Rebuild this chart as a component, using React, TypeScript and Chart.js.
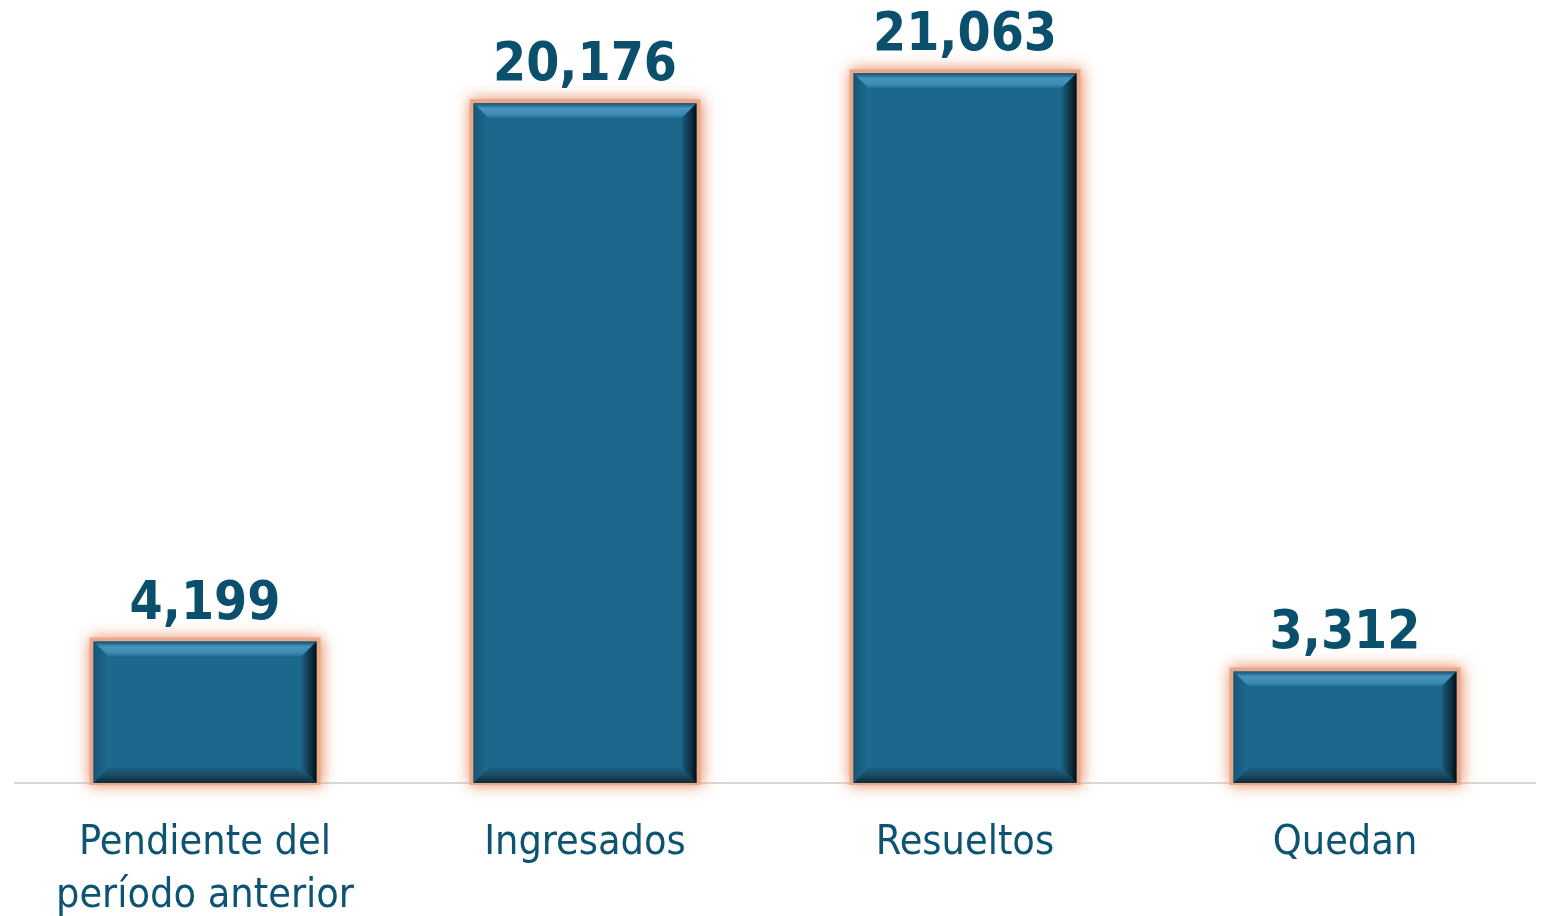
import React, { useEffect, useRef } from "react";
import { Chart, registerables } from "chart.js";

Chart.register(...registerables);

const categories: (string | string[])[] = [
  ["Pendiente del", "período anterior"],
  "Ingresados",
  "Resueltos",
  "Quedan",
];
const values: number[] = [4199, 20176, 21063, 3312];

const BAR_COLOR = "#1c688c";
const LABEL_COLOR = "#0a4f6b";
const TICK_COLOR = "#0d5472";

const barStylePlugin = {
  id: "barStyle",
  beforeDatasetsDraw(chart: any) {
    const ctx = chart.ctx;
    const meta = chart.getDatasetMeta(0);
    meta.data.forEach((bar: any) => {
      const { x, y, base, width } = bar.getProps(["x", "y", "base", "width"], true);
      const l = x - width / 2;
      ctx.save();
      ctx.shadowColor = "rgba(230,130,85,0.95)";
      ctx.shadowBlur = 14;
      ctx.shadowOffsetX = 1;
      ctx.fillStyle = "#eba888";
      ctx.fillRect(l - 4, y - 4, width + 8, base - y + 6);
      ctx.restore();
    });
  },
  afterDatasetsDraw(chart: any) {
    const ctx = chart.ctx;
    const meta = chart.getDatasetMeta(0);
    const b = 15;
    meta.data.forEach((bar: any, i: number) => {
      const { x, y, base, width } = bar.getProps(["x", "y", "base", "width"], true);
      const l = x - width / 2;
      const r = x + width / 2;
      ctx.save();
      // top bevel
      let g = ctx.createLinearGradient(0, y, 0, y + b);
      g.addColorStop(0, "#15506e");
      g.addColorStop(0.35, "#4595bf");
      g.addColorStop(0.75, "#3d8ab3");
      g.addColorStop(1, "#246f94");
      ctx.fillStyle = g;
      ctx.beginPath();
      ctx.moveTo(l, y);
      ctx.lineTo(r, y);
      ctx.lineTo(r - b, y + b);
      ctx.lineTo(l + b, y + b);
      ctx.closePath();
      ctx.fill();
      // left bevel
      g = ctx.createLinearGradient(l, 0, l + b, 0);
      g.addColorStop(0, "#155676");
      g.addColorStop(1, "#1d6a8e");
      ctx.fillStyle = g;
      ctx.beginPath();
      ctx.moveTo(l, y);
      ctx.lineTo(l + b, y + b);
      ctx.lineTo(l + b, base - b);
      ctx.lineTo(l, base);
      ctx.closePath();
      ctx.fill();
      // bottom bevel
      g = ctx.createLinearGradient(0, base - b, 0, base);
      g.addColorStop(0, "#1d6284");
      g.addColorStop(0.5, "#1a4b63");
      g.addColorStop(1, "#0e2a3a");
      ctx.fillStyle = g;
      ctx.beginPath();
      ctx.moveTo(l, base);
      ctx.lineTo(r, base);
      ctx.lineTo(r - b, base - b);
      ctx.lineTo(l + b, base - b);
      ctx.closePath();
      ctx.fill();
      // right bevel
      g = ctx.createLinearGradient(r - b, 0, r, 0);
      g.addColorStop(0, "#1a5f80");
      g.addColorStop(0.6, "#0c3346");
      g.addColorStop(1, "#020d14");
      ctx.fillStyle = g;
      ctx.beginPath();
      ctx.moveTo(r, y);
      ctx.lineTo(r, base);
      ctx.lineTo(r - b, base - b);
      ctx.lineTo(r - b, y + b);
      ctx.closePath();
      ctx.fill();
      // value label
      ctx.fillStyle = LABEL_COLOR;
      ctx.font = 'bold 53px "DejaVu Sans Condensed", "DejaVu Sans", sans-serif';
      ctx.textAlign = "center";
      ctx.textBaseline = "alphabetic";
      ctx.fillText(values[i].toLocaleString("en-US"), x, y - 23);
      ctx.restore();
    });
  },
};

export default function App() {
  const ref = useRef<HTMLCanvasElement | null>(null);
  useEffect(() => {
    if (!ref.current) return;
    const chart = new Chart(ref.current, {
      type: "bar",
      data: {
        labels: categories,
        datasets: [
          {
            data: values,
            backgroundColor: BAR_COLOR,
            borderWidth: 0,
            barPercentage: 0.587,
            categoryPercentage: 1,
          },
        ],
      },
      options: {
        animation: false,
        responsive: true,
        maintainAspectRatio: false,
        layout: { padding: { left: 15, right: 11, top: 8, bottom: 0 } },
        plugins: { legend: { display: false }, tooltip: { enabled: false } },
        scales: {
          x: {
            grid: { display: false, drawTicks: false },
            border: { display: true, color: "#d9d9d9", width: 2 },
            afterFit: (scale: any) => {
              scale.height = 133;
            },
            ticks: {
              color: TICK_COLOR,
              padding: 34,
              maxRotation: 0,
              autoSkip: false,
              font: { family: '"DejaVu Sans Condensed", "DejaVu Sans", sans-serif', size: 41, lineHeight: 1.29 },
            },
          },
          y: { display: false, min: 0, max: 23000 },
        },
      },
      plugins: [barStylePlugin],
    });
    return () => chart.destroy();
  }, []);
  return (
    <div style={{ position: "fixed", left: 0, top: 0, width: 1546, height: 916, background: "#fff" }}>
      <canvas ref={ref} />
    </div>
  );
}
